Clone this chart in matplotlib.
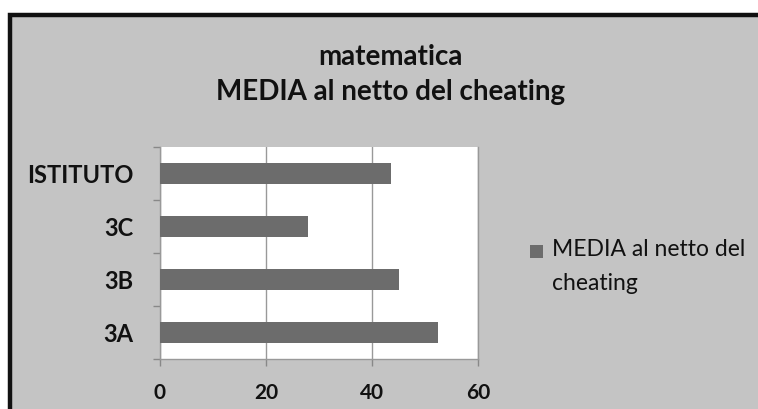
import matplotlib
matplotlib.use("Agg")
import matplotlib.pyplot as plt
from matplotlib.patches import Rectangle

categories = ["3A", "3B", "3C", "ISTITUTO"]
values = [52.4, 45.0, 28.0, 43.6]
xticks = [0, 20, 40, 60]
series_line1 = "MEDIA al netto del"
series_line2 = "cheating"
title1 = "matematica"
title2 = "MEDIA al netto del cheating"

W, H = 758, 409
fig = plt.figure(figsize=(W / 100, H / 100), dpi=100)
fig.patch.set_facecolor("white")

bg = "#c4c4c4"
bar_c = "#6c6c6c"
font = ["Lato", "DejaVu Sans"]

# chart area background with thick black frame (top/left visible)
fig.patches.append(Rectangle((10 / W, -0.05), 1.1, (H - 15) / H + 0.05,
                             transform=fig.transFigure, facecolor=bg,
                             edgecolor="#111111", linewidth=3.2, zorder=-5))

ax = fig.add_axes([160 / W, 1 - 359 / H, 318 / W, 212 / H])
ax.set_facecolor("white")
y = list(range(len(categories)))
ax.barh(y, values, height=0.38, color=bar_c, zorder=3)
ax.set_xlim(0, 60)
ax.set_ylim(-0.5, 3.5)
ax.set_xticks(xticks)
ax.set_xticklabels([str(t) for t in xticks], fontsize=15, fontweight="bold",
                   family=font, color="#111111")
ax.set_yticks(y)
ax.set_yticklabels(categories, fontsize=17, fontweight="bold", family=font,
                   color="#111111")
ax.tick_params(axis="y", length=0, pad=19)
ax.set_yticks([-0.5, 0.5, 1.5, 2.5, 3.5], minor=True)
ax.tick_params(axis="y", which="minor", length=5, color="#888888", width=1)
ax.tick_params(axis="x", length=5, color="#888888", width=1, pad=12)
ax.grid(axis="x", color="#999999", linewidth=1, zorder=1)
ax.spines["top"].set_visible(False)
for s in ["left", "bottom", "right"]:
    ax.spines[s].set_color("#999999")
    ax.spines[s].set_linewidth(1)

fig.text(390 / W, 1 - 57 / H, title1, ha="center", va="center", fontsize=20,
         fontweight="bold", family=font, color="#111111")
fig.text(391 / W, 1 - 92 / H, title2, ha="center", va="center", fontsize=20,
         fontweight="bold", family=font, color="#111111")

# legend
fig.patches.append(Rectangle((530 / W, 1 - 258 / H), 13 / W, 13 / H,
                             transform=fig.transFigure, facecolor=bar_c,
                             edgecolor="none", zorder=2))
fig.text(552 / W, 1 - 250 / H, series_line1, ha="left", va="center",
         fontsize=16.5, family=font, color="#111111")
fig.text(552 / W, 1 - 283 / H, series_line2, ha="left", va="center",
         fontsize=16.5, family=font, color="#111111")

fig.savefig("out.png", dpi=100, facecolor=fig.get_facecolor())
